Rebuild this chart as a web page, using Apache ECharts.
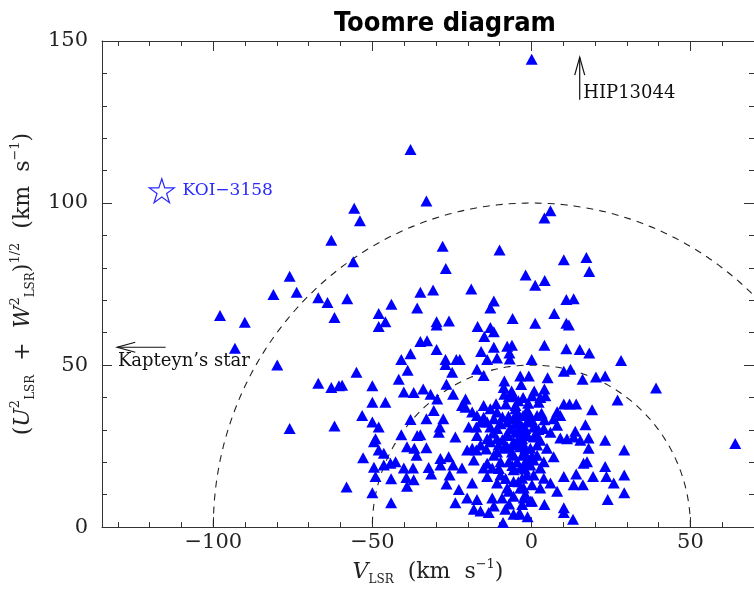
<!DOCTYPE html>
<html><head><meta charset="utf-8">
<script src="https://cdn.jsdelivr.net/npm/echarts@6/dist/echarts.min.js"></script>
<style>html,body{margin:0;padding:0;background:#fff}#chart{width:754px;height:591px}</style>
</head><body><div id="chart"></div><script>
// ---- data (V_LSR, sqrt(U^2+W^2)) in km/s ----
const starsVU = [
[0.1,144.4],[-38.0,116.5],[-33.0,100.6],[-55.7,98.4],[-53.9,94.5],[6.0,97.6],[4.1,95.4],
[-62.9,88.5],[-76.0,77.4],[-81.1,71.8],[-73.8,72.5],[-67.0,70.8],[-64.1,69.3],[-61.9,64.7],
[-97.9,65.3],[-90.1,63.2],[-93.2,55.2],[-79.9,50.0],[-67.0,44.4],[-62.9,43.1],[-60.5,43.6],
[-76.0,30.4],[-61.9,31.2],[-27.9,86.7],[-10.0,85.5],[-56.0,81.9],[-26.9,79.8],[10.2,82.5],
[-1.8,77.8],[1.2,74.6],[4.2,76.1],[-34.9,72.5],[-30.9,73.2],[-18.9,73.5],[-57.9,70.5],
[-44.0,68.8],[-35.9,67.6],[-11.8,69.8],[-12.9,67.6],[11.0,70.2],[13.3,70.5],[-48.0,65.9],
[-45.9,63.4],[-48.0,61.9],[-29.8,63.4],[-29.8,62.4],[-25.9,63.6],[-5.9,64.4],[1.2,62.9],
[7.2,65.9],[11.0,62.9],[11.8,62.4],[-16.9,61.9],[-12.9,61.6],[-11.8,60.3],[-14.8,58.8],
[-34.9,57.3],[-32.8,57.5],[-29.8,54.8],[-38.0,53.5],[-40.9,51.7],[-38.9,48.4],[-55.0,47.8],
[-15.8,54.2],[-11.8,55.5],[-7.6,55.8],[-6.1,56.1],[-6.9,53.7],[-6.8,51.9],[-13.9,51.7],
[-10.8,52.2],[-27.0,51.7],[-27.0,50.2],[-23.6,51.7],[-22.5,51.7],[0.1,51.7],[4.1,56.1],
[11.0,55.0],[-24.9,47.8],[-17.1,48.7],[15.2,54.8],[17.3,83.2],[18.2,78.9],[18.2,53.7],
[28.2,51.4],[10.2,48.1],[12.3,48.7],
[-0.8,46.6],[-3.5,46.6],[5.1,46.1],[16.1,45.6],[20.3,46.3],[23.2,46.6],[39.2,42.9],
[27.1,39.2],[4.1,42.6],[0.9,42.0],[2.8,40.0],[4.4,40.5],[-2.6,40.0],[10.2,38.0],[12.0,38.0],
[14.1,38.0],[19.1,36.2],[8.1,35.6],[9.1,34.4],[-0.8,35.4],[-2.6,34.4],[17.0,31.6],[7.0,33.4],
[8.1,31.4],[3.9,30.4],[0.7,30.9],[6.0,29.3],[9.1,27.5],[11.2,27.3],[13.3,27.8],[13.8,29.6],
[15.4,26.8],[18.0,27.5],[23.2,26.8],[29.2,23.8],[18.0,24.3],[0.7,27.8],[2.8,26.8],[-0.3,24.3],
[4.9,24.3],[7.0,21.7],[16.4,19.7],[17.5,20.2],[23.2,18.7],[29.2,16.1],[10.2,15.6],[14.1,16.4],
[19.4,15.6],[23.6,15.6],[25.9,13.6],[13.3,13.1],[16.2,13.1],[3.9,20.2],[0.7,20.7],[-1.9,20.2],
[2.8,18.2],[0.7,16.1],[3.9,15.1],[6.0,13.6],[8.1,11.1],[2.8,12.1],[-2.4,12.1],[29.2,10.6],
[24.0,8.5],[0.2,8.0],[4.1,7.0],[10.2,6.0],[10.2,4.5],[13.1,2.4],[-3.5,4.0],[64.1,25.8],
[-41.7,45.6],[-50.0,43.6],[-59.5,43.8],[-50.0,38.5],[-45.9,38.5],[-40.1,41.7],[-37.0,41.5],
[-34.0,42.6],[-31.7,41.0],[-29.6,39.5],[-26.7,44.1],[-24.6,41.0],[-15.0,46.8],[-8.5,45.1],
[-8.7,43.1],[-8.5,41.0],[-5.6,40.5],[-20.7,39.5],[-21.8,37.5],[-20.7,37.0],[-15.0,37.5],
[-12.9,36.5],[-17.1,34.4],[-15.0,33.9],[-10.8,35.5],[-5.0,36.5],[-5.0,34.4],[-1.4,36.0],
[-53.2,34.4],[-50.0,32.4],[-48.0,30.9],[-38.0,33.2],[-33.0,33.4],[-30.7,36.0],[-27.7,33.4],
[-28.8,30.9],[-29.1,29.3],[-19.7,30.9],[-17.3,30.9],[-12.9,30.9],[-10.8,30.4],[-7.6,32.4],
[-5.0,31.9],[-1.4,32.4],[-49.0,27.3],[-35.9,28.3],[-34.9,28.5],[-40.9,28.5],[-23.9,27.8],
[-17.1,28.3],[-13.9,27.3],[-10.8,27.3],[-7.6,28.3],[-5.6,26.3],[-2.9,27.3],[-49.5,26.3],
[-48.0,23.8],[-46.4,22.8],[-39.1,24.8],[-36.8,24.3],[-33.0,24.5],[-36.1,22.2],[-52.9,21.4],
[-42.7,20.2],[-40.1,18.2],[-37.2,18.2],[-32.3,18.4],[-28.6,21.2],[-26.0,21.7],[-28.6,19.2],
[-24.6,19.2],[-21.8,18.2],[-20.2,23.8],[-17.3,23.8],[-18.1,20.7],[-13.9,19.7],[-11.8,22.2],
[-8.7,24.3],[-5.6,22.2],[-2.9,22.2],[-44.3,19.7],[-46.4,19.2],[-49.0,15.6],[-44.1,14.9],
[-39.3,15.3],[-37.0,14.6],[-39.1,12.6],[-31.5,16.4],[-25.7,16.1],[-26.7,13.3],[-18.6,13.6],
[-13.9,15.6],[-9.7,16.1],[-5.6,17.7],[-1.4,16.1],[-10.8,13.6],[-7.6,12.1],[-5.6,14.1],
[-3.5,12.1],[0.2,13.1],[-58.1,12.4],[-50.0,10.6],[-44.1,7.5],[-22.8,11.6],[-23.9,7.5],
[-17.1,8.5],[-20.2,9.0],[-16.0,5.0],[-13.4,4.5],[-18.1,5.5],[-11.8,6.5],[-8.2,5.5],[-5.6,4.0],
[-3.8,4.2],[-8.9,1.4],[-12.3,9.0],[-9.2,9.0],[-5.6,9.5],[-2.4,9.0],[-7.1,11.1],[-0.3,8.0],
[-5.0,37.5],[-4.5,35.5],[-5.6,33.4],[-4.0,32.4],[-6.6,30.4],[-3.5,29.9],[-5.0,29.3],[-7.6,28.9],
[-5.6,25.3],[-3.5,24.8],[-7.6,24.8],[-10.3,25.3],[-1.9,24.3],[-10.8,23.2],[-4.5,20.2],[-7.1,20.2],
[-9.7,20.2],[-12.3,18.2],[-15.0,18.2],[-3.5,18.2],[-1.4,20.2],[1.8,22.2],[1.8,25.3],[1.8,28.3],
[1.8,34.4],[-12.9,26.3],[-16.0,25.3],[-18.6,24.3],[-11.8,33.4],[-9.7,31.9],[-13.9,32.4],
[-16.0,32.4],[-18.6,35.5],[-1.9,34.4],[-1.9,30.4],[2.3,38.5],[0.2,40.5],[-2.4,29.3],[-2.9,26.3],
[-0.3,19.2],[-2.9,15.1],[-2.9,7.0],[-1.9,10.1],[-49.5,18.5],
[-8.0,38.0],[-6.2,42.0],[-3.2,44.0],[-1.0,38.2],[-7.2,34.2],[-3.0,31.2],[0.1,33.2],[-9.1,27.0],
[-6.1,23.2],[-4.2,27.1],[-1.1,28.2],[1.1,31.0],[3.2,35.1],[-10.2,18.1],[-8.1,15.0],[-6.0,19.0],
[-2.1,23.0],[0.2,22.0],[-12.1,29.0],[-14.2,24.1],[-9.1,34.0],[-11.1,38.1],[-7.1,40.2],[-4.1,39.0],
[2.2,30.1],[4.1,33.1],[-2.0,17.9],[-4.1,14.0],[-7.0,7.1],[-1.2,3.2]
];
const koi3158VU = [[-116.2, 103.8]];
const circleRadii = [50, 100];

const xMajorTicks = [-100, -50, 0, 50];
const xMinorTicks = [-130, -120, -110, -90, -80, -70, -60, -40, -30, -20, -10, 10, 20, 30, 40, 60];
const yMajorTicks = [0, 50, 100, 150];
const yMinorTicks = [10, 20, 30, 40, 60, 70, 80, 90, 110, 120, 130, 140];

const labelTexts = ['KOI\u22123158', 'HIP13044', 'Kapteyn\u2019s star'];
const labelV = [-109.7, 16.3, -130.0];
const labelU = [103.8, 133.8, 51.0];
const arrowTailVU = [[15.2, 131.9], [-115.0, 55.5]];
const arrowTipVU = [[15.2, 145.0], [-130.2, 55.5]];

// ---- styles ----
const SERIF = '"DejaVu Serif", "Liberation Serif", serif';
const AX = '#333';
const lineSt = { color: AX, width: 1 };
const fmtNum = v => (v < 0 ? '\u2212' + (-v) : String(v));

function circlePoints(r) {
  const pts = [];
  for (let a = 0; a <= 180; a += 1) {
    const t = a * Math.PI / 180;
    pts.push([r * Math.cos(t), r * Math.sin(t)]);
  }
  return pts;
}

function xAx(pos, major) {
  return {
    type: 'value', min: -135, max: 70, position: pos,
    splitLine: { show: false },
    axisLine: { show: major, onZero: false, lineStyle: lineSt },
    axisTick: { show: true, inside: true, length: major ? 10 : 5,
      customValues: major ? xMajorTicks : xMinorTicks, lineStyle: lineSt },
    axisLabel: { show: major && pos === 'bottom', customValues: xMajorTicks, formatter: fmtNum,
      fontFamily: SERIF, fontSize: 21, color: '#222', margin: 5 }
  };
}
function yAx(pos, major) {
  return {
    type: 'value', min: 0, max: 150, position: pos,
    splitLine: { show: false },
    axisLine: { show: major, onZero: false, lineStyle: lineSt },
    axisTick: { show: true, inside: true, length: major ? 10 : 5,
      customValues: major ? yMajorTicks : yMinorTicks, lineStyle: lineSt },
    axisLabel: { show: major && pos === 'left', customValues: yMajorTicks, formatter: fmtNum,
      fontFamily: SERIF, fontSize: 21, color: '#222', margin: 14 }
  };
}

const rich = {
  n: { fontFamily: SERIF, fontSize: 22, color: '#222', lineHeight: 28, verticalAlign: 'middle' },
  i: { fontFamily: SERIF, fontSize: 22, fontStyle: 'italic', color: '#222', lineHeight: 28, verticalAlign: 'middle' },
  sb: { fontFamily: SERIF, fontSize: 12, color: '#222', lineHeight: 14, verticalAlign: 'bottom' },
  sp: { fontFamily: SERIF, fontSize: 13, color: '#222', lineHeight: 14, verticalAlign: 'top' }
};

const xA0 = xAx('bottom', true);
xA0.name = '{i|V}{sb|LSR}{n|  (km  s}{sp|\u22121}{n|)}';
xA0.nameLocation = 'middle';
xA0.nameGap = 30;
xA0.nameTextStyle = { rich: rich };

const yA0 = yAx('left', true);
yA0.name = '{n|(}{i|U}{sp|2}{sb|LSR}{n|  +  }{i|W}{sp|2}{sb|LSR}{n|)}{sp|1/2}{n|  (km  s}{sp|\u22121}{n|)}';
yA0.nameLocation = 'middle';
yA0.nameRotate = 90;
yA0.nameGap = 62;
yA0.nameTextStyle = { rich: rich };

const chart = echarts.init(document.getElementById('chart'), null, { renderer: 'canvas' });

const option = {
  animation: false,
  backgroundColor: '#fff',
  title: {
    text: 'Toomre diagram', left: 440, top: 5, textAlign: 'center',
    textStyle: { fontFamily: '"Liberation Sans Narrow", "DejaVu Sans Condensed", "DejaVu Sans", sans-serif',
      fontSize: 27, fontWeight: 'bold', color: '#000' }
  },
  grid: { left: 102, right: 0, top: 41, bottom: 58 },
  xAxis: [xA0, xAx('bottom', false), xAx('top', true), xAx('top', false)],
  yAxis: [yA0, yAx('left', false), yAx('right', true), yAx('right', false)],
  series: [
    ...circleRadii.map(r => ({
      type: 'line', data: circlePoints(r), showSymbol: false, symbol: 'none', silent: true,
      lineStyle: { color: '#222', width: 1.1, type: [7, 6] }, z: 1
    })),
    {
      type: 'scatter', data: starsVU, symbol: 'triangle', symbolSize: [12, 11],
      itemStyle: { color: '#0000ff', opacity: 1 }, z: 3
    },
    {
      type: 'scatter', data: koi3158VU,
      symbol: 'path://M50,0 L61.8,36.2 L100,36.2 L69.1,58.6 L80.9,95 L50,72.6 L19.1,95 L30.9,58.6 L0,36.2 L38.2,36.2 Z',
      symbolSize: [25, 24],
      itemStyle: { color: 'rgba(0,0,0,0)', borderColor: '#2a2aff', borderWidth: 1.2, opacity: 1 }, z: 4
    },
    {
      type: 'custom', z: 5, silent: true,
      data: arrowTailVU.map((t, k) => [t[0], t[1], arrowTipVU[k][0], arrowTipVU[k][1]]),
      renderItem: function (params, api) {
        const p0 = api.coord([api.value(0), api.value(1)]);
        const p1 = api.coord([api.value(2), api.value(3)]);
        const dx = p1[0] - p0[0], dy = p1[1] - p0[1];
        const len = Math.hypot(dx, dy) || 1;
        const ux = dx / len, uy = dy / len, hl = 18, hw = 5;
        const bx = p1[0] - ux * hl, by = p1[1] - uy * hl;
        return { type: 'group', children: [
          { type: 'line', shape: { x1: p0[0], y1: p0[1], x2: p1[0], y2: p1[1] },
            style: { stroke: '#111', lineWidth: 1.2 } },
          { type: 'polyline', shape: { points: [[bx - uy * hw, by + ux * hw], [p1[0], p1[1]], [bx + uy * hw, by - ux * hw]] },
            style: { stroke: '#111', fill: null, lineWidth: 1.2 } }
        ] };
      }
    },
    {
      type: 'custom', z: 5, silent: true,
      data: labelTexts.map((t, k) => [labelV[k], labelU[k], k]),
      renderItem: function (params, api) {
        const k = api.value(2);
        const p = api.coord([api.value(0), api.value(1)]);
        return { type: 'text', x: p[0], y: p[1], style: {
          text: labelTexts[k], fill: k === 0 ? '#2a2aff' : '#111',
          font: (k === 0 ? '17px ' : '18px ') + SERIF,
          align: 'left', verticalAlign: 'middle' } };
      }
    }
  ]
};
chart.setOption(option);
</script></body></html>
